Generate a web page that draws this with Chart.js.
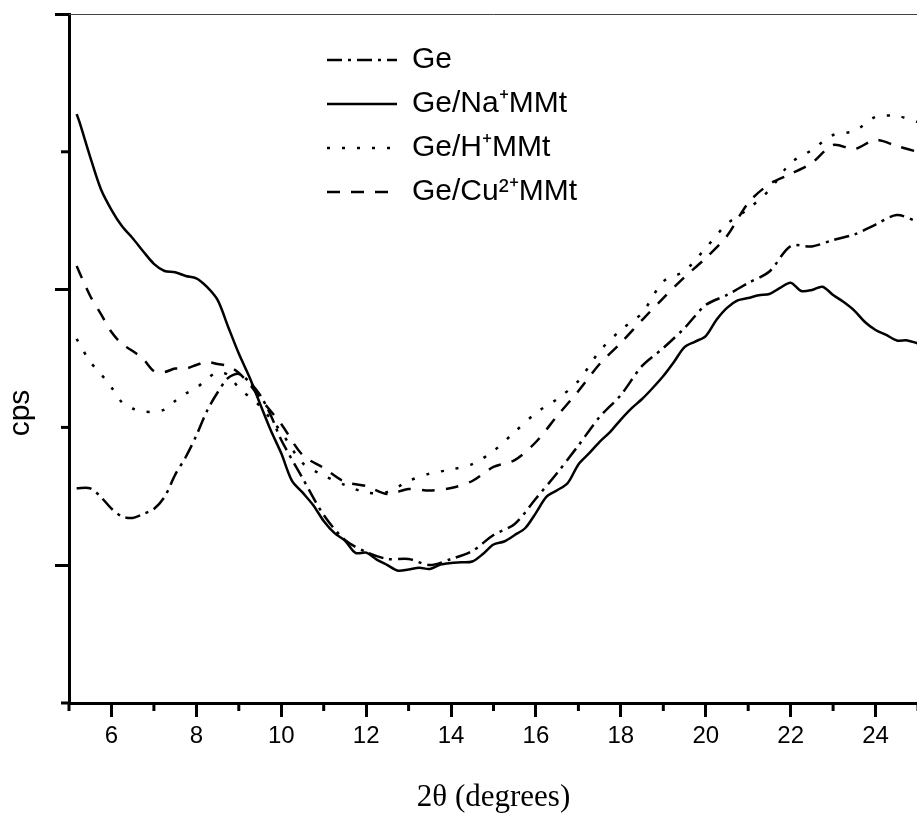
<!DOCTYPE html>
<html>
<head>
<meta charset="utf-8">
<title>XRD patterns</title>
<script src="https://cdn.jsdelivr.net/npm/chart.js@4.4.1/dist/chart.umd.min.js"></script>
<style>
  html, body { margin: 0; padding: 0; background: #fff; overflow: hidden; }
  #wrap { position: relative; width: 919px; height: 819px; }
</style>
</head>
<body>
<div id="wrap"><canvas id="xrdChart"></canvas></div>
<script>
// 2theta positions (degrees)
const naTheta = [5.18, 5.25, 5.5, 5.75, 6, 6.25, 6.5, 6.75, 7, 7.25, 7.5, 7.75, 8, 8.25, 8.5, 8.75,
  9, 9.25, 9.5, 9.75, 10, 10.25, 10.5, 10.75, 11, 11.25, 11.5, 11.75, 12, 12.25, 12.5, 12.75,
  13, 13.25, 13.5, 13.75, 14, 14.25, 14.5, 14.75, 15, 15.25, 15.5, 15.75, 16, 16.25, 16.5, 16.75,
  17, 17.25, 17.5, 17.75, 18, 18.25, 18.5, 18.75, 19, 19.25, 19.5, 19.75, 20, 20.25, 20.5, 20.75,
  21, 21.25, 21.5, 21.75, 22, 22.25, 22.5, 22.75, 23, 23.25, 23.5, 23.75, 24, 24.25, 24.5, 24.75, 25];
const theta = [5.18, 5.5, 5.75, 6, 6.25, 6.5, 6.75, 7, 7.25, 7.5, 7.75, 8, 8.25, 8.5, 8.75, 9,
  9.25, 9.5, 9.75, 10, 10.5, 11, 11.5, 12, 12.5, 13, 13.5, 14, 14.5, 15, 15.5, 16, 16.5, 17,
  17.5, 18, 18.5, 19, 19.5, 20, 20.5, 21, 21.5, 22, 22.5, 23, 23.5, 24, 24.5, 25];

// intensities (cps, arbitrary units)
const geCps = [155.8, 155.8, 149.5, 141.1, 135.3, 134.3, 137.2, 140.8, 149.5, 165.6, 178.5, 194.1,
  211.9, 225.3, 235.9, 238.8, 232.9, 223.5, 209.0, 190.9, 163.3, 136.4, 118.3, 109.6, 104.5, 104.5,
  100.1, 104.5, 110.3, 121.9, 129.9, 148.4, 166.9, 186.9, 207.6, 223.5, 244.6, 257.6, 272.1, 288.8,
  296.1, 304.8, 313.1, 331.6, 331.3, 336.0, 340.0, 347.2, 354.1, 349.1];
const naCps = [427.4, 421.3, 396.2, 373.0, 357.9, 345.9, 337.3, 327.7, 318.7, 313.5, 312.6, 309.9,
  308.2, 302.0, 292.5, 272.9, 253.6, 236.6, 217.2, 198.1, 181.2, 161.4, 152.8, 143.7, 132.1, 123.4,
  117.9, 108.9, 109.1, 104.1, 100.1, 96.0, 96.9, 98.2, 97.2, 100.5, 101.6, 102.1, 102.7, 108.1,
  115.0, 117.2, 121.9, 127.0, 138.0, 149.8, 154.4, 159.7, 173.1, 181.1, 189.5, 196.8, 205.7, 213.8,
  220.6, 228.6, 237.3, 247.5, 258.3, 262.3, 266.3, 277.9, 286.7, 292.1, 293.9, 295.9, 296.8, 301.2,
  305.0, 299.0, 299.7, 302.1, 296.1, 291.0, 284.8, 276.5, 270.7, 267.1, 263.1, 263.1, 260.9];
const hCps = [264.2, 247.5, 238.8, 229.0, 218.1, 213.7, 211.5, 211.4, 213.0, 219.2, 224.6, 228.6,
  235.1, 240.2, 238.0, 228.6, 222.1, 215.5, 206.1, 196.7, 174.2, 165.1, 158.2, 152.8, 153.1, 161.1,
  166.5, 169.4, 173.4, 182.9, 196.7, 210.5, 220.6, 233.7, 255.4, 270.7, 283.0, 305.9, 313.5, 330.2,
  347.6, 358.5, 372.3, 391.9, 401.3, 412.2, 415.1, 425.3, 426.0, 421.6];
const cuCps = [317.1, 295.4, 282.3, 269.2, 260.5, 255.4, 249.6, 240.9, 240.2, 242.7, 242.7, 245.3,
  247.5, 246.0, 244.6, 239.5, 231.5, 221.3, 211.9, 202.5, 180.0, 170.5, 160.4, 157.5, 151.7, 155.3,
  154.2, 156.0, 161.1, 171.3, 176.3, 189.4, 208.3, 226.4, 246.0, 261.3, 277.9, 293.9, 309.1, 322.9,
  338.9, 362.9, 376.6, 383.9, 391.9, 404.9, 402.0, 408.6, 404.2, 399.9];

const seriesNames = ["Ge", "Ge/Na\u207AMMt", "Ge/H\u207AMMt", "Ge/Cu\u00B2\u207AMMt"];

// axis ticks
const xMajorTicks = [6, 8, 10, 12, 14, 16, 18, 20, 22, 24];
const xMinorTicks = [5, 7, 9, 11, 13, 15, 17, 19, 21, 23, 25];
const yMajorTicks = [100, 300, 500];
const yMinorTicks = [0, 200, 400];
const xTitle = "2\u03B8 (degrees)";
const yTitle = "cps";

const sans = '"Liberation Sans", Arial, sans-serif';

function pairs(xs, ys) {
  return xs.map((x, i) => ({ x: x, y: ys[i] }));
}

function lineSet(label, xs, ys, dash) {
  return {
    label: label,
    data: pairs(xs, ys),
    borderColor: "#000",
    backgroundColor: "#000",
    borderWidth: 2.5,
    borderDash: dash,
    pointRadius: 0,
    pointStyle: "line",
    tension: 0.3,
    fill: false
  };
}

// legend items keep the dash pattern of their line
function legendLabels(chart) {
  const items = Chart.defaults.plugins.legend.labels.generateLabels(chart);
  items.forEach(item => {
    const ds = chart.data.datasets[item.datasetIndex];
    item.lineDash = ds.borderDash;
    item.lineWidth = ds.borderWidth;
    item.strokeStyle = ds.borderColor;
  });
  return items;
}

// minor ticks, top frame line, y title, legend placement
const extras = {
  id: "extras",
  afterLayout(chart) {
    const lg = chart.legend;
    lg.left = 313;
    lg.top = 31;
  },
  afterDraw(chart) {
    const { ctx, chartArea, scales } = chart;
    ctx.save();
    ctx.strokeStyle = "#000";
    ctx.lineWidth = 3;
    xMinorTicks.forEach(v => {
      const px = scales.x.getPixelForValue(v);
      ctx.beginPath();
      ctx.moveTo(px, chartArea.bottom);
      ctx.lineTo(px, chartArea.bottom + 8);
      ctx.stroke();
    });
    yMinorTicks.forEach(v => {
      const py = scales.y.getPixelForValue(v);
      ctx.beginPath();
      ctx.moveTo(chartArea.left, py);
      ctx.lineTo(chartArea.left - 8, py);
      ctx.stroke();
    });
    ctx.lineWidth = 1;
    ctx.strokeStyle = "#444";
    ctx.beginPath();
    ctx.moveTo(chartArea.left, chartArea.top + 0.5);
    ctx.lineTo(chartArea.right, chartArea.top + 0.5);
    ctx.stroke();

    ctx.fillStyle = "#000";
    ctx.font = "30px " + sans;
    ctx.textAlign = "center";
    ctx.textBaseline = "middle";
    ctx.translate(21, 413);
    ctx.rotate(-Math.PI / 2);
    ctx.fillText(yTitle, 0, 0);
    ctx.restore();
  }
};

new Chart(document.getElementById("xrdChart"), {
  type: "line",
  data: {
    datasets: [
      lineSet(seriesNames[0], theta, geCps, [15, 6, 3, 6]),
      lineSet(seriesNames[1], naTheta, naCps, []),
      lineSet(seriesNames[2], theta, hCps, [3, 12]),
      lineSet(seriesNames[3], theta, cuCps, [13, 11])
    ]
  },
  options: {
    responsive: true,
    maintainAspectRatio: false,
    animation: false,
    layout: { padding: { top: 14, right: 1, left: 0, bottom: 0 } },
    plugins: {
      tooltip: { enabled: false },
      legend: {
        position: "chartArea",
        align: "start",
        labels: {
          usePointStyle: true,
          pointStyleWidth: 70,
          padding: 14,
          color: "#000",
          font: { family: sans, size: 30 },
          generateLabels: legendLabels
        }
      }
    },
    scales: {
      x: {
        type: "linear",
        min: 5,
        max: 25,
        afterBuildTicks: s => { s.ticks = xMajorTicks.map(v => ({ value: v })); },
        afterFit: s => { s.height = 116; },
        grid: { drawOnChartArea: false, drawTicks: true, tickLength: 14, tickWidth: 3, tickColor: "#000" },
        border: { color: "#000", width: 3 },
        ticks: { color: "#000", font: { family: sans, size: 24 }, padding: 5, maxRotation: 0 },
        title: {
          display: true,
          text: xTitle,
          color: "#000",
          font: { family: '"Liberation Serif", "Times New Roman", serif', size: 31 },
          padding: { top: 0, bottom: 3 }
        }
      },
      y: {
        min: 0,
        max: 500,
        afterBuildTicks: s => { s.ticks = yMajorTicks.map(v => ({ value: v })); },
        afterFit: s => { s.width = 69; },
        grid: { drawOnChartArea: false, drawTicks: true, tickLength: 14, tickWidth: 3, tickColor: "#000" },
        border: { color: "#000", width: 3 },
        ticks: { display: false }
      }
    }
  },
  plugins: [extras]
});
</script>
</body>
</html>
